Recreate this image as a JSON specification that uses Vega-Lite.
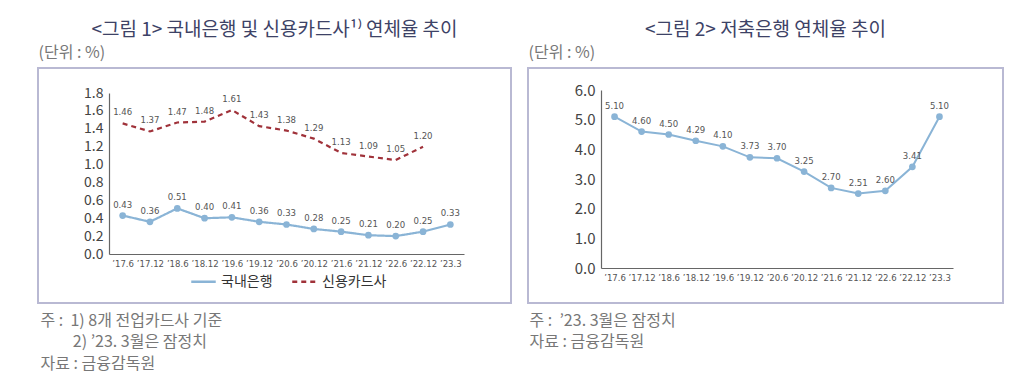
{
  "$schema": "https://vega.github.io/schema/vega-lite/v6.json",
  "background": "white",
  "padding": {"left": 37, "top": 20, "right": 0, "bottom": 0},
  "spacing": 15,
  "config": {
    "view": {"stroke": "#b9b9d3", "strokeWidth": 2},
    "font": "Noto Sans CJK KR",
    "title": {"fontSize": 19, "fontWeight": "normal", "color": "#3d4266", "anchor": "middle", "font": "Noto Sans CJK KR", "offset": 4},
    "axis": {"grid": false, "ticks": false, "domainColor": "#666", "domainWidth": 1.2},
    "legend": {"orient": "none", "legendX": 152, "legendY": 200, "direction": "horizontal", "symbolType": "stroke", "symbolSize": 600, "symbolStrokeWidth": 2.5, "labelFontSize": 14, "labelColor": "#333", "labelFont": "Noto Sans CJK KR", "columnPadding": 14}
  },
  "datasets": {
    "left": [
      {"period": "’17.6", "series": "국내은행", "value": 0.43},
      {"period": "’17.12", "series": "국내은행", "value": 0.36},
      {"period": "’18.6", "series": "국내은행", "value": 0.51},
      {"period": "’18.12", "series": "국내은행", "value": 0.40},
      {"period": "’19.6", "series": "국내은행", "value": 0.41},
      {"period": "’19.12", "series": "국내은행", "value": 0.36},
      {"period": "’20.6", "series": "국내은행", "value": 0.33},
      {"period": "’20.12", "series": "국내은행", "value": 0.28},
      {"period": "’21.6", "series": "국내은행", "value": 0.25},
      {"period": "’21.12", "series": "국내은행", "value": 0.21},
      {"period": "’22.6", "series": "국내은행", "value": 0.20},
      {"period": "’22.12", "series": "국내은행", "value": 0.25},
      {"period": "’23.3", "series": "국내은행", "value": 0.33},
      {"period": "’17.6", "series": "신용카드사", "value": 1.46},
      {"period": "’17.12", "series": "신용카드사", "value": 1.37},
      {"period": "’18.6", "series": "신용카드사", "value": 1.47},
      {"period": "’18.12", "series": "신용카드사", "value": 1.48},
      {"period": "’19.6", "series": "신용카드사", "value": 1.61},
      {"period": "’19.12", "series": "신용카드사", "value": 1.43},
      {"period": "’20.6", "series": "신용카드사", "value": 1.38},
      {"period": "’20.12", "series": "신용카드사", "value": 1.29},
      {"period": "’21.6", "series": "신용카드사", "value": 1.13},
      {"period": "’21.12", "series": "신용카드사", "value": 1.09},
      {"period": "’22.6", "series": "신용카드사", "value": 1.05},
      {"period": "’22.12", "series": "신용카드사", "value": 1.20}
    ],
    "right": [
      {"period": "’17.6", "value": 5.10},
      {"period": "’17.12", "value": 4.60},
      {"period": "’18.6", "value": 4.50},
      {"period": "’18.12", "value": 4.29},
      {"period": "’19.6", "value": 4.10},
      {"period": "’19.12", "value": 3.73},
      {"period": "’20.6", "value": 3.70},
      {"period": "’20.12", "value": 3.25},
      {"period": "’21.6", "value": 2.70},
      {"period": "’21.12", "value": 2.51},
      {"period": "’22.6", "value": 2.60},
      {"period": "’22.12", "value": 3.41},
      {"period": "’23.3", "value": 5.10}
    ]
  },
  "hconcat": [
    {
      "width": 473,
      "height": 235,
      "title": "<그림 1> 국내은행 및 신용카드사¹⁾ 연체율 추이",
      "data": {"name": "left"},
      "encoding": {
        "x": {
          "field": "period", "type": "ordinal",
          "sort": ["’17.6", "’17.12", "’18.6", "’18.12", "’19.6", "’19.12", "’20.6", "’20.12", "’21.6", "’21.12", "’22.6", "’22.12", "’23.3"],
          "scale": {"type": "point", "range": [71, 426], "padding": 0.5},
          "axis": {
            "offset": -49, "labelAngle": 0, "labelFont": "DejaVu Sans Condensed", "labelFontSize": 9.5, "labelColor": "#555", "labelPadding": 4,
            "title": ["주 :\u00a0\u00a01) 8개 전업카드사 기준", "\u200b\u00a0\u00a0\u00a0\u00a0\u00a0\u00a0\u00a0\u00a0\u00a02) ’23. 3월은 잠정치", "자료 : 금융감독원"],
            "titleX": 2, "titleY": 58, "titleAlign": "left", "titleBaseline": "top", "titleAngle": 0, "titleFontSize": 16, "titleFontWeight": "normal", "titleColor": "#777", "titleLineHeight": 21.5
          }
        },
        "y": {
          "field": "value", "type": "quantitative",
          "scale": {"domain": [0, 1.8], "range": [186, 25], "nice": false},
          "axis": {
            "offset": -71, "values": [0, 0.2, 0.4, 0.6, 0.8, 1.0, 1.2, 1.4, 1.6, 1.8], "format": ".1f", "labelFontSize": 14, "labelColor": "#444", "labelPadding": 6,
            "title": "(단위 : %)", "titleAngle": 0, "titleX": -71, "titleY": -16, "titleAlign": "left", "titleBaseline": "middle", "titleFontSize": 16, "titleFontWeight": "normal", "titleColor": "#777"
          }
        }
      },
      "layer": [
        {
          "mark": {"type": "line", "strokeWidth": 2.2},
          "encoding": {
            "color": {"field": "series", "type": "nominal", "title": null, "scale": {"domain": ["국내은행", "신용카드사"], "range": ["#8ab4d6", "#a0323a"]}},
            "strokeDash": {"field": "series", "type": "nominal", "title": null, "scale": {"domain": ["국내은행", "신용카드사"], "range": [[1, 0], [5, 4]]}}
          }
        },
        {
          "transform": [{"filter": "datum.series === '국내은행'"}],
          "mark": {"type": "point", "filled": true, "size": 45, "color": "#8ab4d6", "opacity": 1}
        },
        {
          "mark": {"type": "text", "dy": -11, "font": "DejaVu Sans Condensed", "fontSize": 9.5, "color": "#555"},
          "encoding": {"text": {"field": "value", "type": "quantitative", "format": ".2f"}}
        }
      ]
    },
    {
      "width": 475,
      "height": 235,
      "title": "<그림 2> 저축은행 연체율 추이",
      "data": {"name": "right"},
      "encoding": {
        "x": {
          "field": "period", "type": "ordinal",
          "sort": ["’17.6", "’17.12", "’18.6", "’18.12", "’19.6", "’19.12", "’20.6", "’20.12", "’21.6", "’21.12", "’22.6", "’22.12", "’23.3"],
          "scale": {"type": "point", "range": [73, 425], "padding": 0.5},
          "axis": {
            "offset": -35, "labelAngle": 0, "labelFont": "DejaVu Sans Condensed", "labelFontSize": 9.5, "labelColor": "#555", "labelPadding": 4,
            "title": ["주 :\u00a0\u00a0’23. 3월은 잠정치", "자료 : 금융감독원"],
            "titleX": 1, "titleY": 44, "titleAlign": "left", "titleBaseline": "top", "titleAngle": 0, "titleFontSize": 16, "titleFontWeight": "normal", "titleColor": "#777", "titleLineHeight": 21.5
          }
        },
        "y": {
          "field": "value", "type": "quantitative",
          "scale": {"domain": [0, 6], "range": [200, 22], "nice": false},
          "axis": {
            "offset": -73, "values": [0, 1, 2, 3, 4, 5, 6], "format": ".1f", "labelFontSize": 15, "labelColor": "#444", "labelPadding": 6,
            "title": "(단위 : %)", "titleAngle": 0, "titleX": -73, "titleY": -16, "titleAlign": "left", "titleBaseline": "middle", "titleFontSize": 16, "titleFontWeight": "normal", "titleColor": "#777"
          }
        }
      },
      "layer": [
        {"mark": {"type": "line", "strokeWidth": 2, "color": "#8ab4d6"}},
        {"mark": {"type": "point", "filled": true, "size": 45, "color": "#8ab4d6", "opacity": 1}},
        {
          "mark": {"type": "text", "dy": -11, "font": "DejaVu Sans Condensed", "fontSize": 9.5, "color": "#555"},
          "encoding": {"text": {"field": "value", "type": "quantitative", "format": ".2f"}}
        }
      ]
    }
  ]
}
